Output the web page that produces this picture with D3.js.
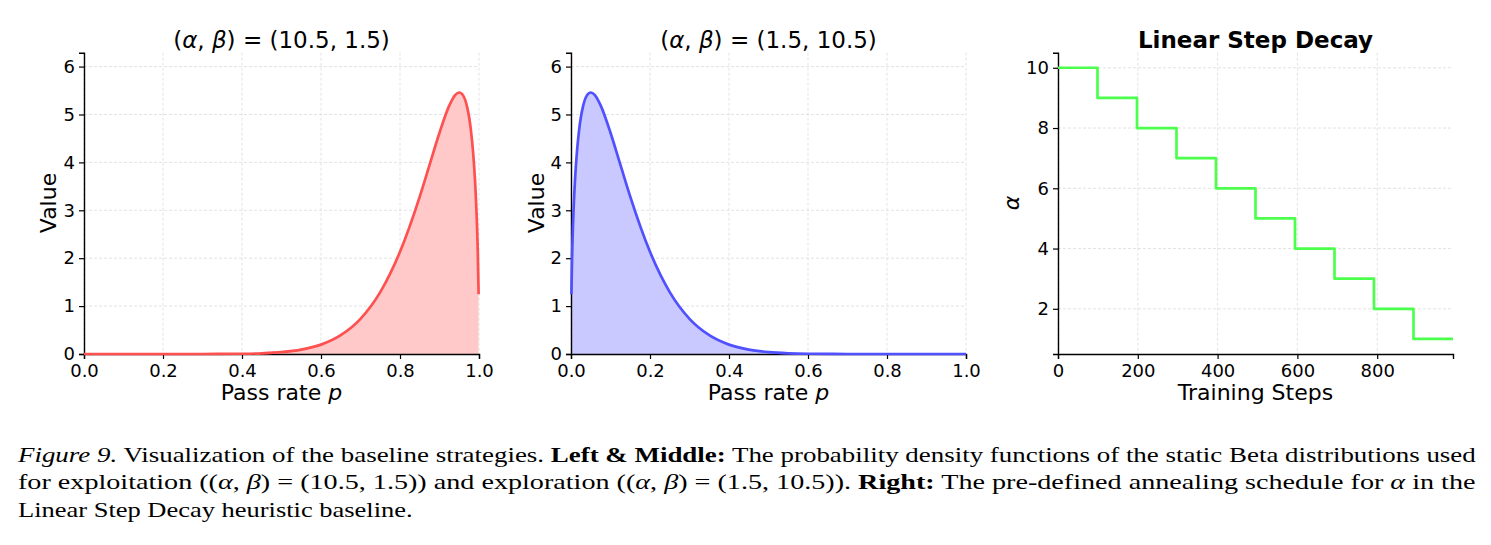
<!DOCTYPE html>
<html>
<head>
<meta charset="utf-8">
<script src="https://cdn.jsdelivr.net/npm/d3@7"></script>
<style>
  body { margin: 0; background: #fff; }
  svg { display: block; }
  .ax text { font-family: "DejaVu Sans", sans-serif; font-size: 18px; fill: #000; }
  .ax path.domain { stroke: #000; stroke-width: 1.4; }
  .ax line { stroke: #000; stroke-width: 1.2; }
  .grid line { stroke: #dcdcdc; stroke-width: 0.8; stroke-dasharray: 3,2; }
  .lbl { font-family: "DejaVu Sans", sans-serif; font-size: 22px; fill: #000; }
  .ttl { font-family: "DejaVu Sans", sans-serif; font-size: 23px; fill: #000; }
  .cap { font-family: "Liberation Serif", "Times New Roman", serif; font-size: 22px; fill: #000; }
</style>
</head>
<body>
<div id="fig"></div>
<script>
// left panel: Beta(10.5, 1.5) density
var pExploit = [0, 0.1, 0.2, 0.3, 0.4, 0.45, 0.5, 0.55, 0.6, 0.65, 0.7, 0.75, 0.8, 0.85, 0.875, 0.9, 0.925, 0.94, 0.95, 0.96, 0.97, 0.975, 0.98, 0.985, 0.99, 0.995, 0.997, 0.999];
var dExploit = [0, 0, 0, 0.0004, 0.005, 0.015, 0.039, 0.091, 0.196, 0.393, 0.735, 1.292, 2.134, 3.287, 3.952, 4.619, 5.19, 5.409, 5.459, 5.394, 5.154, 4.941, 4.639, 4.217, 3.613, 2.68, 2.116, 1.245];

// middle panel: Beta(1.5, 10.5) density
var pExplore = [0.001, 0.003, 0.005, 0.01, 0.015, 0.02, 0.025, 0.03, 0.04, 0.05, 0.06, 0.075, 0.1, 0.125, 0.15, 0.2, 0.25, 0.3, 0.35, 0.4, 0.45, 0.5, 0.55, 0.6, 0.7, 0.8, 0.9, 1.0];
var dExplore = [1.245, 2.116, 2.68, 3.613, 4.217, 4.639, 4.941, 5.154, 5.394, 5.459, 5.409, 5.19, 4.619, 3.952, 3.287, 2.134, 1.292, 0.735, 0.393, 0.196, 0.091, 0.039, 0.015, 0.005, 0.0004, 0, 0, 0];

// right panel: step schedule for alpha
var stepStarts = [0, 99, 198, 297, 396, 495, 594, 693, 792, 891, 990];
var alphaLevels = [10, 9, 8, 7, 6, 5, 4, 3, 2, 1, 1];

var pTicks = [0, 0.2, 0.4, 0.6, 0.8, 1.0];
var densityTicks = [0, 1, 2, 3, 4, 5, 6];
var stepTicks = [0, 200, 400, 600, 800];
var alphaTicks = [2, 4, 6, 8, 10];

var W = 1491, H = 545;
var plotTop = 52.7, plotBottom = 354;

var svg = d3.select("#fig").append("svg")
  .attr("width", W).attr("height", H);
svg.append("rect").attr("width", W).attr("height", H).attr("fill", "#fff");

function panel(o) {
  var x = d3.scaleLinear().domain(o.xDomain).range([o.left, o.right]);
  var y = d3.scaleLinear().domain(o.yDomain).range([plotBottom, plotTop]);
  var g = svg.append("g");

  // grid
  var grid = g.append("g").attr("class", "grid");
  grid.selectAll(".gx").data(o.xTicks).enter().append("line")
    .attr("x1", d => x(d)).attr("x2", d => x(d))
    .attr("y1", plotTop).attr("y2", plotBottom);
  grid.selectAll(".gy").data(o.yTicks).enter().append("line")
    .attr("x1", o.left).attr("x2", o.right)
    .attr("y1", d => y(d)).attr("y2", d => y(d));

  var pts = o.xs.map((v, i) => [v, o.ys[i]]);
  if (o.fill) {
    g.append("path").datum(pts)
      .attr("fill", o.fill)
      .attr("d", d3.area().curve(d3.curveMonotoneX)
        .x(d => x(d[0])).y0(y(0)).y1(d => y(d[1])));
  }

  // axes
  g.append("g").attr("class", "ax")
    .attr("transform", "translate(0," + plotBottom + ")")
    .call(d3.axisBottom(x).tickValues(o.xTicks).tickFormat(o.xFmt).tickSizeOuter(0).tickSize(5).tickPadding(5));
  g.append("g").attr("class", "ax")
    .attr("transform", "translate(" + o.left + ",0)")
    .call(d3.axisLeft(y).tickValues(o.yTicks).tickFormat(d3.format("d")).tickSizeOuter(0).tickSize(5).tickPadding(4));

  g.append("path").datum(pts)
    .attr("fill", "none")
    .attr("stroke", o.color)
    .attr("stroke-width", 2.7)
    .attr("stroke-linejoin", "round")
    .attr("d", d3.line().curve(o.curve).x(d => x(d[0])).y(d => y(d[1])));

  // title
  var cx = (o.left + o.right) / 2;
  var t = g.append("text").attr("class", "ttl").attr("x", cx).attr("y", 47.5)
    .attr("text-anchor", "middle");
  o.title(t);

  // x label
  var xl = g.append("text").attr("class", "lbl").attr("x", cx).attr("y", 400)
    .attr("text-anchor", "middle");
  o.xLabel(xl);

  // y label
  var yl = g.append("text").attr("class", "lbl")
    .attr("transform", "translate(" + o.yLabelX + ",203) rotate(-90)")
    .attr("text-anchor", "middle");
  o.yLabel(yl);
}

function betaTitle(a, b) {
  return function(t) {
    t.append("tspan").text("(");
    t.append("tspan").attr("font-style", "italic").text("α");
    t.append("tspan").text(", ");
    t.append("tspan").attr("font-style", "italic").text("β");
    t.append("tspan").text(") = (" + a + ", " + b + ")");
  };
}
function passLabel(t) {
  t.append("tspan").text("Pass rate ");
  t.append("tspan").attr("font-style", "italic").text("p");
}
function valueLabel(t) { t.text("Value"); }

panel({
  left: 84, right: 479, xDomain: [0, 1], yDomain: [0, 6.29],
  xTicks: pTicks, yTicks: densityTicks, xFmt: d3.format(".1f"),
  xs: pExploit, ys: dExploit, color: "#ff5050", fill: "#ffc9c9",
  curve: d3.curveMonotoneX,
  title: betaTitle("10.5", "1.5"), xLabel: passLabel, yLabel: valueLabel, yLabelX: 56
});

panel({
  left: 571, right: 966, xDomain: [0, 1], yDomain: [0, 6.29],
  xTicks: pTicks, yTicks: densityTicks, xFmt: d3.format(".1f"),
  xs: pExplore, ys: dExplore, color: "#5050ff", fill: "#c9c9ff",
  curve: d3.curveMonotoneX,
  title: betaTitle("1.5", "10.5"), xLabel: passLabel, yLabel: valueLabel, yLabelX: 544
});

panel({
  left: 1058, right: 1453, xDomain: [0, 990], yDomain: [0.5, 10.5],
  xTicks: stepTicks, yTicks: alphaTicks, xFmt: d3.format("d"),
  xs: stepStarts, ys: alphaLevels, color: "#4dff4d", fill: null,
  curve: d3.curveStepAfter,
  title: function(t) { t.attr("font-weight", "bold").text("Linear Step Decay"); },
  xLabel: function(t) { t.text("Training Steps"); },
  yLabel: function(t) { t.attr("font-style", "italic").text("α"); },
  yLabelX: 1019
});

// caption, stretched horizontally to the width of the reference lines
var capLines = [
  [["Figure 9.", "i"], [" Visualization of the baseline strategies. ", ""], ["Left & Middle:", "b"], [" The probability density functions of the static Beta distributions used", ""]],
  [["for exploitation ((", ""], ["α", "i"], [", ", ""], ["β", "i"], [") = (10.5, 1.5)) and exploration ((", ""], ["α", "i"], [", ", ""], ["β", "i"], [") = (1.5, 10.5)). ", ""], ["Right:", "b"], [" The pre-defined annealing schedule for ", ""], ["α", "i"], [" in the", ""]],
  [["Linear Step Decay heuristic baseline.", ""]]
];
var capY = [461.7, 489.3, 516.7];
var capWidth = [1458, 1458, 395];
var capLeft = 18;

capLines.forEach(function(line, i) {
  var t = svg.append("text").attr("class", "cap").attr("x", 0).attr("y", 0)
    .attr("xml:space", "preserve");
  line.forEach(function(seg) {
    var s = t.append("tspan").text(seg[0]);
    if (seg[1] === "i") s.attr("font-style", "italic");
    if (seg[1] === "b") s.attr("font-weight", "bold");
  });
  var natural = t.node().getComputedTextLength();
  var sx = capWidth[i] / natural;
  t.attr("transform", "translate(" + capLeft + "," + capY[i] + ") scale(" + sx + ",1)");
});
</script>
</body>
</html>
